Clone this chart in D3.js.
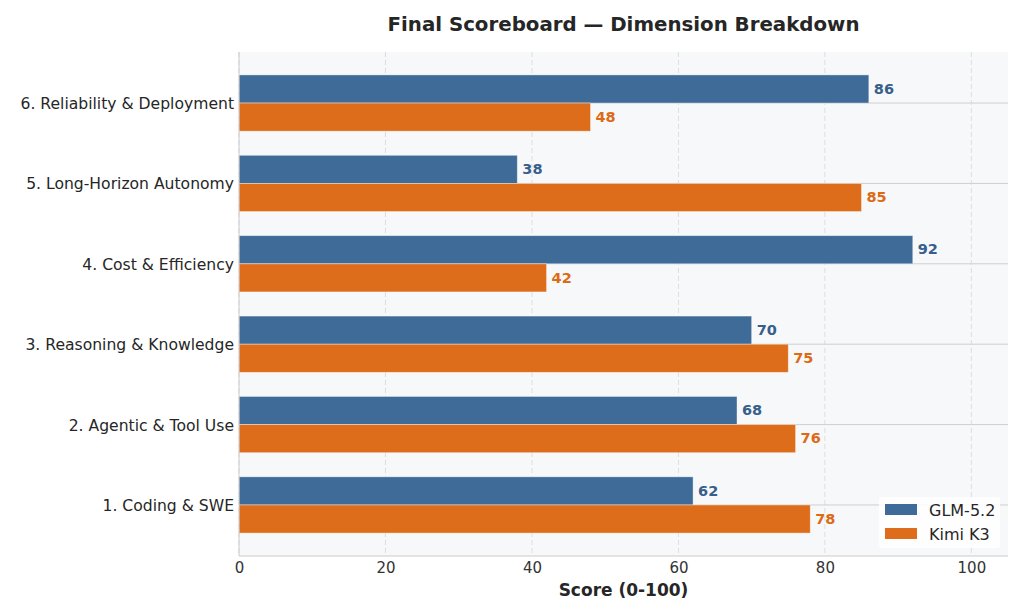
<!DOCTYPE html>
<html>
<head>
<meta charset="utf-8">
<script src="https://cdn.jsdelivr.net/npm/d3@7"></script>
<style>
  body { margin: 0; background: #fff; }
  text { font-family: "DejaVu Sans", sans-serif; }
</style>
</head>
<body>
<script>
// Chart data
const categories = [
  "1. Coding & SWE",
  "2. Agentic & Tool Use",
  "3. Reasoning & Knowledge",
  "4. Cost & Efficiency",
  "5. Long-Horizon Autonomy",
  "6. Reliability & Deployment"
];
const seriesNames = ["GLM-5.2", "Kimi K3"];
const glmScores = [62, 68, 70, 92, 38, 86];
const kimiScores = [78, 76, 75, 42, 85, 48];
const xTicks = [0, 20, 40, 60, 80, 100];

const colors = { "GLM-5.2": "#3f6b98", "Kimi K3": "#dd6d1b" };
const labelColors = { "GLM-5.2": "#375f8c", "Kimi K3": "#dd6a15" };

const rows = categories.map((c, i) => ({
  category: c,
  values: [
    { series: "GLM-5.2", value: glmScores[i] },
    { series: "Kimi K3", value: kimiScores[i] }
  ]
}));

// Dimensions
const W = 1024, H = 614;
const margin = { top: 52, right: 16, bottom: 58, left: 239 };
const width = W - margin.left - margin.right;
const height = H - margin.top - margin.bottom;

const svg = d3.select("body")
  .append("svg")
  .attr("width", W)
  .attr("height", H);

const g = svg.append("g")
  .attr("transform", `translate(${margin.left},${margin.top})`);

// Scales
const x = d3.scaleLinear().domain([0, 105]).range([0, width]);

const y = d3.scaleBand()
  .domain(categories.slice().reverse())
  .range([0, height])
  .paddingInner(0.3)
  .paddingOuter(0.285);

const ySub = d3.scaleBand()
  .domain(seriesNames)
  .range([0, y.bandwidth()]);

// Plot background
g.append("rect")
  .attr("width", width)
  .attr("height", height)
  .attr("fill", "#f7f8fa");

// Vertical dashed grid
g.append("g")
  .selectAll("line")
  .data(xTicks)
  .enter()
  .append("line")
  .attr("x1", (d) => x(d))
  .attr("x2", (d) => x(d))
  .attr("y1", 0)
  .attr("y2", height)
  .attr("stroke", "#dddddd")
  .attr("stroke-dasharray", "5,3")
  .attr("stroke-width", 1);

// Horizontal grid at category centres
g.append("g")
  .selectAll("line")
  .data(categories)
  .enter()
  .append("line")
  .attr("x1", 0)
  .attr("x2", width)
  .attr("y1", (d) => y(d) + y.bandwidth() / 2)
  .attr("y2", (d) => y(d) + y.bandwidth() / 2)
  .attr("stroke", "#cfcfcf")
  .attr("stroke-width", 1);

// Bars
const groups = g.selectAll(".group")
  .data(rows)
  .enter()
  .append("g")
  .attr("class", "group")
  .attr("transform", (d) => `translate(0,${y(d.category)})`);

groups.selectAll("rect")
  .data((d) => d.values)
  .enter()
  .append("rect")
  .attr("x", 0)
  .attr("y", (d) => ySub(d.series))
  .attr("width", (d) => x(d.value))
  .attr("height", ySub.bandwidth())
  .attr("fill", (d) => colors[d.series])
  .attr("stroke", "#ffffff")
  .attr("stroke-opacity", 0.5)
  .attr("stroke-width", 0.8);

// Value labels
groups.selectAll("text")
  .data((d) => d.values)
  .enter()
  .append("text")
  .attr("x", (d) => x(d.value) + 5)
  .attr("y", (d) => ySub(d.series) + ySub.bandwidth() / 2)
  .attr("dy", "0.32em")
  .attr("fill", (d) => labelColors[d.series])
  .style("font-size", "14.5px")
  .style("font-weight", "bold")
  .text((d) => d.value);

// Axes lines
g.append("line")
  .attr("x1", 0).attr("x2", 0)
  .attr("y1", 0).attr("y2", height)
  .attr("stroke", "#cccccc");
g.append("line")
  .attr("x1", 0).attr("x2", width)
  .attr("y1", height).attr("y2", height)
  .attr("stroke", "#cccccc");

// X axis
const xAxis = d3.axisBottom(x).tickValues(xTicks).tickSize(0).tickPadding(6);
const xg = g.append("g")
  .attr("transform", `translate(0,${height})`)
  .call(xAxis);
xg.select(".domain").remove();
xg.selectAll("text")
  .style("font-size", "15px")
  .style("font-family", "DejaVu Sans, sans-serif")
  .attr("fill", "#333333");

// Y axis
const yAxis = d3.axisLeft(y).tickSize(0).tickPadding(5);
const yg = g.append("g").call(yAxis);
yg.select(".domain").remove();
yg.selectAll("text")
  .attr("dy", "0.38em")
  .style("font-size", "15.6px")
  .style("font-family", "DejaVu Sans, sans-serif")
  .attr("fill", "#262626");

// Title
svg.append("text")
  .attr("x", margin.left + width / 2)
  .attr("y", 31)
  .attr("text-anchor", "middle")
  .attr("fill", "#262626")
  .style("font-size", "19.8px")
  .style("font-weight", "bold")
  .text("Final Scoreboard \u2014 Dimension Breakdown");

// X label
svg.append("text")
  .attr("x", margin.left + width / 2)
  .attr("y", 596)
  .attr("text-anchor", "middle")
  .attr("fill", "#262626")
  .style("font-size", "17px")
  .style("font-weight", "bold")
  .text("Score (0-100)");

// Legend
const legend = svg.append("g")
  .attr("transform", "translate(879,497)");

legend.append("rect")
  .attr("width", 121)
  .attr("height", 51)
  .attr("rx", 3)
  .attr("fill", "#ffffff")
  .attr("fill-opacity", 0.85);

const items = legend.selectAll(".item")
  .data(seriesNames)
  .enter()
  .append("g")
  .attr("class", "item")
  .attr("transform", (d, i) => `translate(6,${7 + i * 24})`);

items.append("rect")
  .attr("width", 32)
  .attr("height", 11)
  .attr("fill", (d) => colors[d]);

items.append("text")
  .attr("x", 44)
  .attr("y", 6)
  .attr("dy", "0.35em")
  .attr("fill", "#262626")
  .style("font-size", "16px")
  .text((d) => d);
</script>
</body>
</html>
